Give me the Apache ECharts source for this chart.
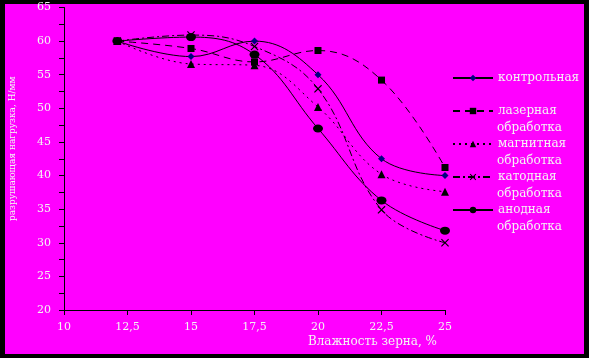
<!DOCTYPE html>
<html>
<head>
<meta charset="utf-8">
<script src="https://cdn.jsdelivr.net/npm/echarts@6/dist/echarts.min.js"></script>
<style>
    html, body {margin: 0; padding: 0; background: #000;}
    #chart {width: 589px; height: 358px;}
</style>
</head>
<body>
<div id="chart"></div>
<script>
// влажность зерна, %
const moisture = [12.1, 15, 17.5, 20, 22.5, 25];

const control = [60, 57.7, 60, 55, 42.5, 40];
const laser = [60, 58.9, 56.9, 58.6, 54.2, 41.2];
const magnetic = [60, 56.6, 56.4, 50.2, 40.2, 37.6];
const cathode = [60, 60.9, 59.2, 52.9, 34.9, 30];
const anode = [60, 60.6, 58, 47, 36.3, 31.8];

const seriesNames = ['контрольная', 'лазерная', 'магнитная', 'катодная', 'анодная'];
const secondLine = 'обработка';

const xTicks = {min: 10, max: 25, interval: 2.5};
const yTicks = {min: 20, max: 65, interval: 5};

const font = 'DejaVu Serif';
const shadowText = {
    color: '#f4f4f4',
    fontFamily: font,
    fontSize: 11,
    textShadowColor: '#000',
    textShadowOffsetX: 1,
    textShadowOffsetY: 1,
    textShadowBlur: 0
};

function pairs(values) {
    return moisture.map((x, i) => [x, values[i]]);
}

const crossPath = 'path://M0,1L1,0L5,4L9,0L10,1L6,5L10,9L9,10L5,6L1,10L0,9L4,5Z';

let chart = echarts.init(document.getElementById('chart'));

// подписи "обработка" под названиями в легенде
let legendTop = 70;
let entryStep = 33;
let extraLabels = [1, 2, 3, 4].map(i => ({
    type: 'text',
    x: 497,
    y: legendTop + 8 + entryStep * i + 16.5,
    silent: true,
    style: {
        text: secondLine,
        fill: shadowText.color,
        font: '12px "' + font + '"',
        verticalAlign: 'middle',
        shadowColor: '#000',
        shadowOffsetX: 1,
        shadowOffsetY: 1,
        shadowBlur: 0
    }
}));

chart.setOption({
    backgroundColor: '#000',
    animation: false,
    graphic: [{
        type: 'rect',
        z: -100,
        silent: true,
        shape: {x: 5, y: 4, width: 579, height: 350},
        style: {fill: '#ff00ff'}
    }].concat(extraLabels),
    grid: {left: 64, right: 144, top: 7.5, bottom: 48, outerBoundsMode: 'none', containLabel: false},
    legend: {
        orient: 'vertical',
        left: 452,
        top: legendTop,
        padding: 0,
        itemWidth: 40,
        itemHeight: 8,
        itemGap: entryStep - 16,
        itemTextGap: 5,
        textStyle: Object.assign({}, shadowText, {fontSize: 12, lineHeight: 16}),
        data: seriesNames
    },
    xAxis: {
        type: 'value',
        min: xTicks.min,
        max: xTicks.max,
        interval: xTicks.interval,
        name: 'Влажность зерна, %',
        nameLocation: 'end',
        nameGap: -8,
        nameTextStyle: Object.assign({}, shadowText, {
            fontSize: 12,
            align: 'right',
            verticalAlign: 'top',
            padding: [26, 0, 0, 0]
        }),
        axisLine: {lineStyle: {color: '#000', width: 1}},
        axisTick: {length: 5, lineStyle: {color: '#000'}},
        splitLine: {show: false},
        axisLabel: Object.assign({}, shadowText, {
            margin: 12,
            formatter: v => String(v).replace('.', ',')
        })
    },
    yAxis: {
        type: 'value',
        min: yTicks.min,
        max: yTicks.max,
        interval: yTicks.interval,
        name: 'разрушающая нагрузка, Н/мм',
        nameLocation: 'middle',
        nameGap: 47,
        nameTextStyle: Object.assign({}, shadowText, {
            fontSize: 9,
            padding: [0, 0, 0, 20]
        }),
        axisLine: {show: true, lineStyle: {color: '#000', width: 1}},
        axisTick: {show: true, length: 5, lineStyle: {color: '#000'}},
        minorTick: {show: true, splitNumber: 2, length: 5, lineStyle: {color: '#000'}},
        splitLine: {show: false},
        axisLabel: Object.assign({}, shadowText, {margin: 13})
    },
    series: [
        {
            name: seriesNames[0],
            type: 'line',
            smooth: 0.4,
            data: pairs(control),
            symbol: 'diamond',
            symbolSize: 7,
            lineStyle: {color: '#000', width: 1},
            itemStyle: {color: '#000080'}
        },
        {
            name: seriesNames[1],
            type: 'line',
            smooth: 0.4,
            data: pairs(laser),
            symbol: 'rect',
            symbolSize: 7,
            lineStyle: {color: '#000', width: 1, type: [7, 5]},
            itemStyle: {color: '#000'}
        },
        {
            name: seriesNames[2],
            type: 'line',
            smooth: 0.4,
            data: pairs(magnetic),
            symbol: 'triangle',
            symbolSize: 8,
            lineStyle: {color: '#000', width: 1, type: [2, 4]},
            itemStyle: {color: '#000'}
        },
        {
            name: seriesNames[3],
            type: 'line',
            smooth: 0.4,
            data: pairs(cathode),
            symbol: crossPath,
            symbolSize: 8,
            lineStyle: {color: '#000', width: 1, type: [7, 3, 2, 3]},
            itemStyle: {color: '#000'}
        },
        {
            name: seriesNames[4],
            type: 'line',
            smooth: 0.4,
            data: pairs(anode),
            symbol: 'circle',
            symbolSize: [10, 8],
            lineStyle: {color: '#000', width: 1},
            itemStyle: {color: '#000'}
        }
    ]
});
</script>
</body>
</html>
